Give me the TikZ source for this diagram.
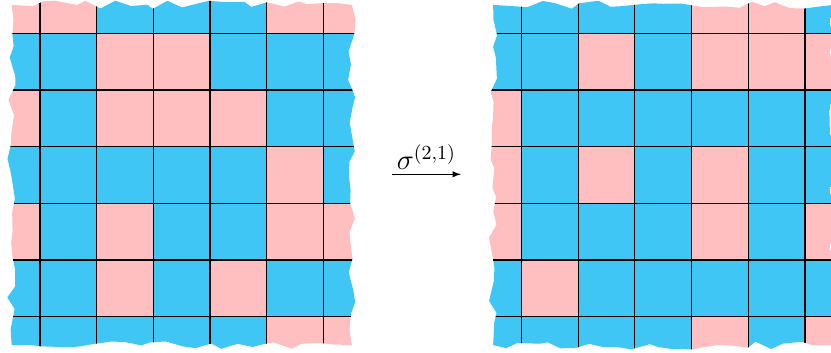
\documentclass[tikz,border=0pt]{standalone}
\usepackage{amsmath,amssymb}
\usepackage{tikz}
\usepackage{xcolor}
\usetikzlibrary{decorations.pathmorphing}
\definecolor{tile0}{RGB}{64,198,244}
\definecolor{tile1}{RGB}{255,191,192}

\begin{document}
\begin{tikzpicture}[jagged/.style={decorate, decoration={random steps,
       segment length=7pt, amplitude=2.2pt}},
     cellline/.style={line width=0.6pt, black}]
  \useasboundingbox (0,0) rectangle (14.66,6.227);
  % configuration before the shift
  \begin{scope}[shift={(3.206,3.14)}]
    \pgfmathsetseed{11}
    \clip[jagged] (-3,-3) -- (3,-3) -- (3,3) -- (-3,3) -- cycle;
    \foreach \row [count=\r] in {{1,1,0,0,0,1,1},{0,0,1,1,0,0,0},{1,0,1,1,1,0,0},
        {0,0,0,0,0,1,0},{1,0,1,0,0,1,1},{0,0,1,0,1,0,0},{0,0,0,0,0,1,1}}
      \foreach \v [count=\c] in \row
        \fill[tile\v] (\c-4.5,4.5-\r) rectangle ++(1,-1);
    \draw[cellline, shift={(0.5,0.5)}] (-4,-4) grid (3,3);
  \end{scope}
  % configuration after the shift
  \begin{scope}[shift={(11.7,3.14)}]
    \pgfmathsetseed{27}
    \clip[jagged] (-3,-3) -- (3,-3) -- (3,3) -- (-3,3) -- cycle;
    \foreach \row [count=\r] in {{0,0,0,0,1,1,0},{0,0,1,0,1,1,1},{1,0,0,0,0,0,0},
        {1,0,1,0,1,0,0},{1,0,0,0,1,0,1},{0,1,0,0,0,0,0},{0,0,0,0,1,0,1}}
      \foreach \v [count=\c] in \row
        \fill[tile\v] (\c-4.5,4.5-\r) rectangle ++(1,-1);
    \draw[cellline, shift={(0.5,0.5)}] (-4,-4) grid (3,3);
  \end{scope}
  \coordinate (src) at (6.91,3.152);
  \coordinate (dst) at (8.13,3.152);
  \draw[-latex, line width=0.45pt] (src) -- node[above, inner sep=2pt, font=\Large] {$\sigma^{(2,1)}$} (dst);
\end{tikzpicture}
\end{document}
